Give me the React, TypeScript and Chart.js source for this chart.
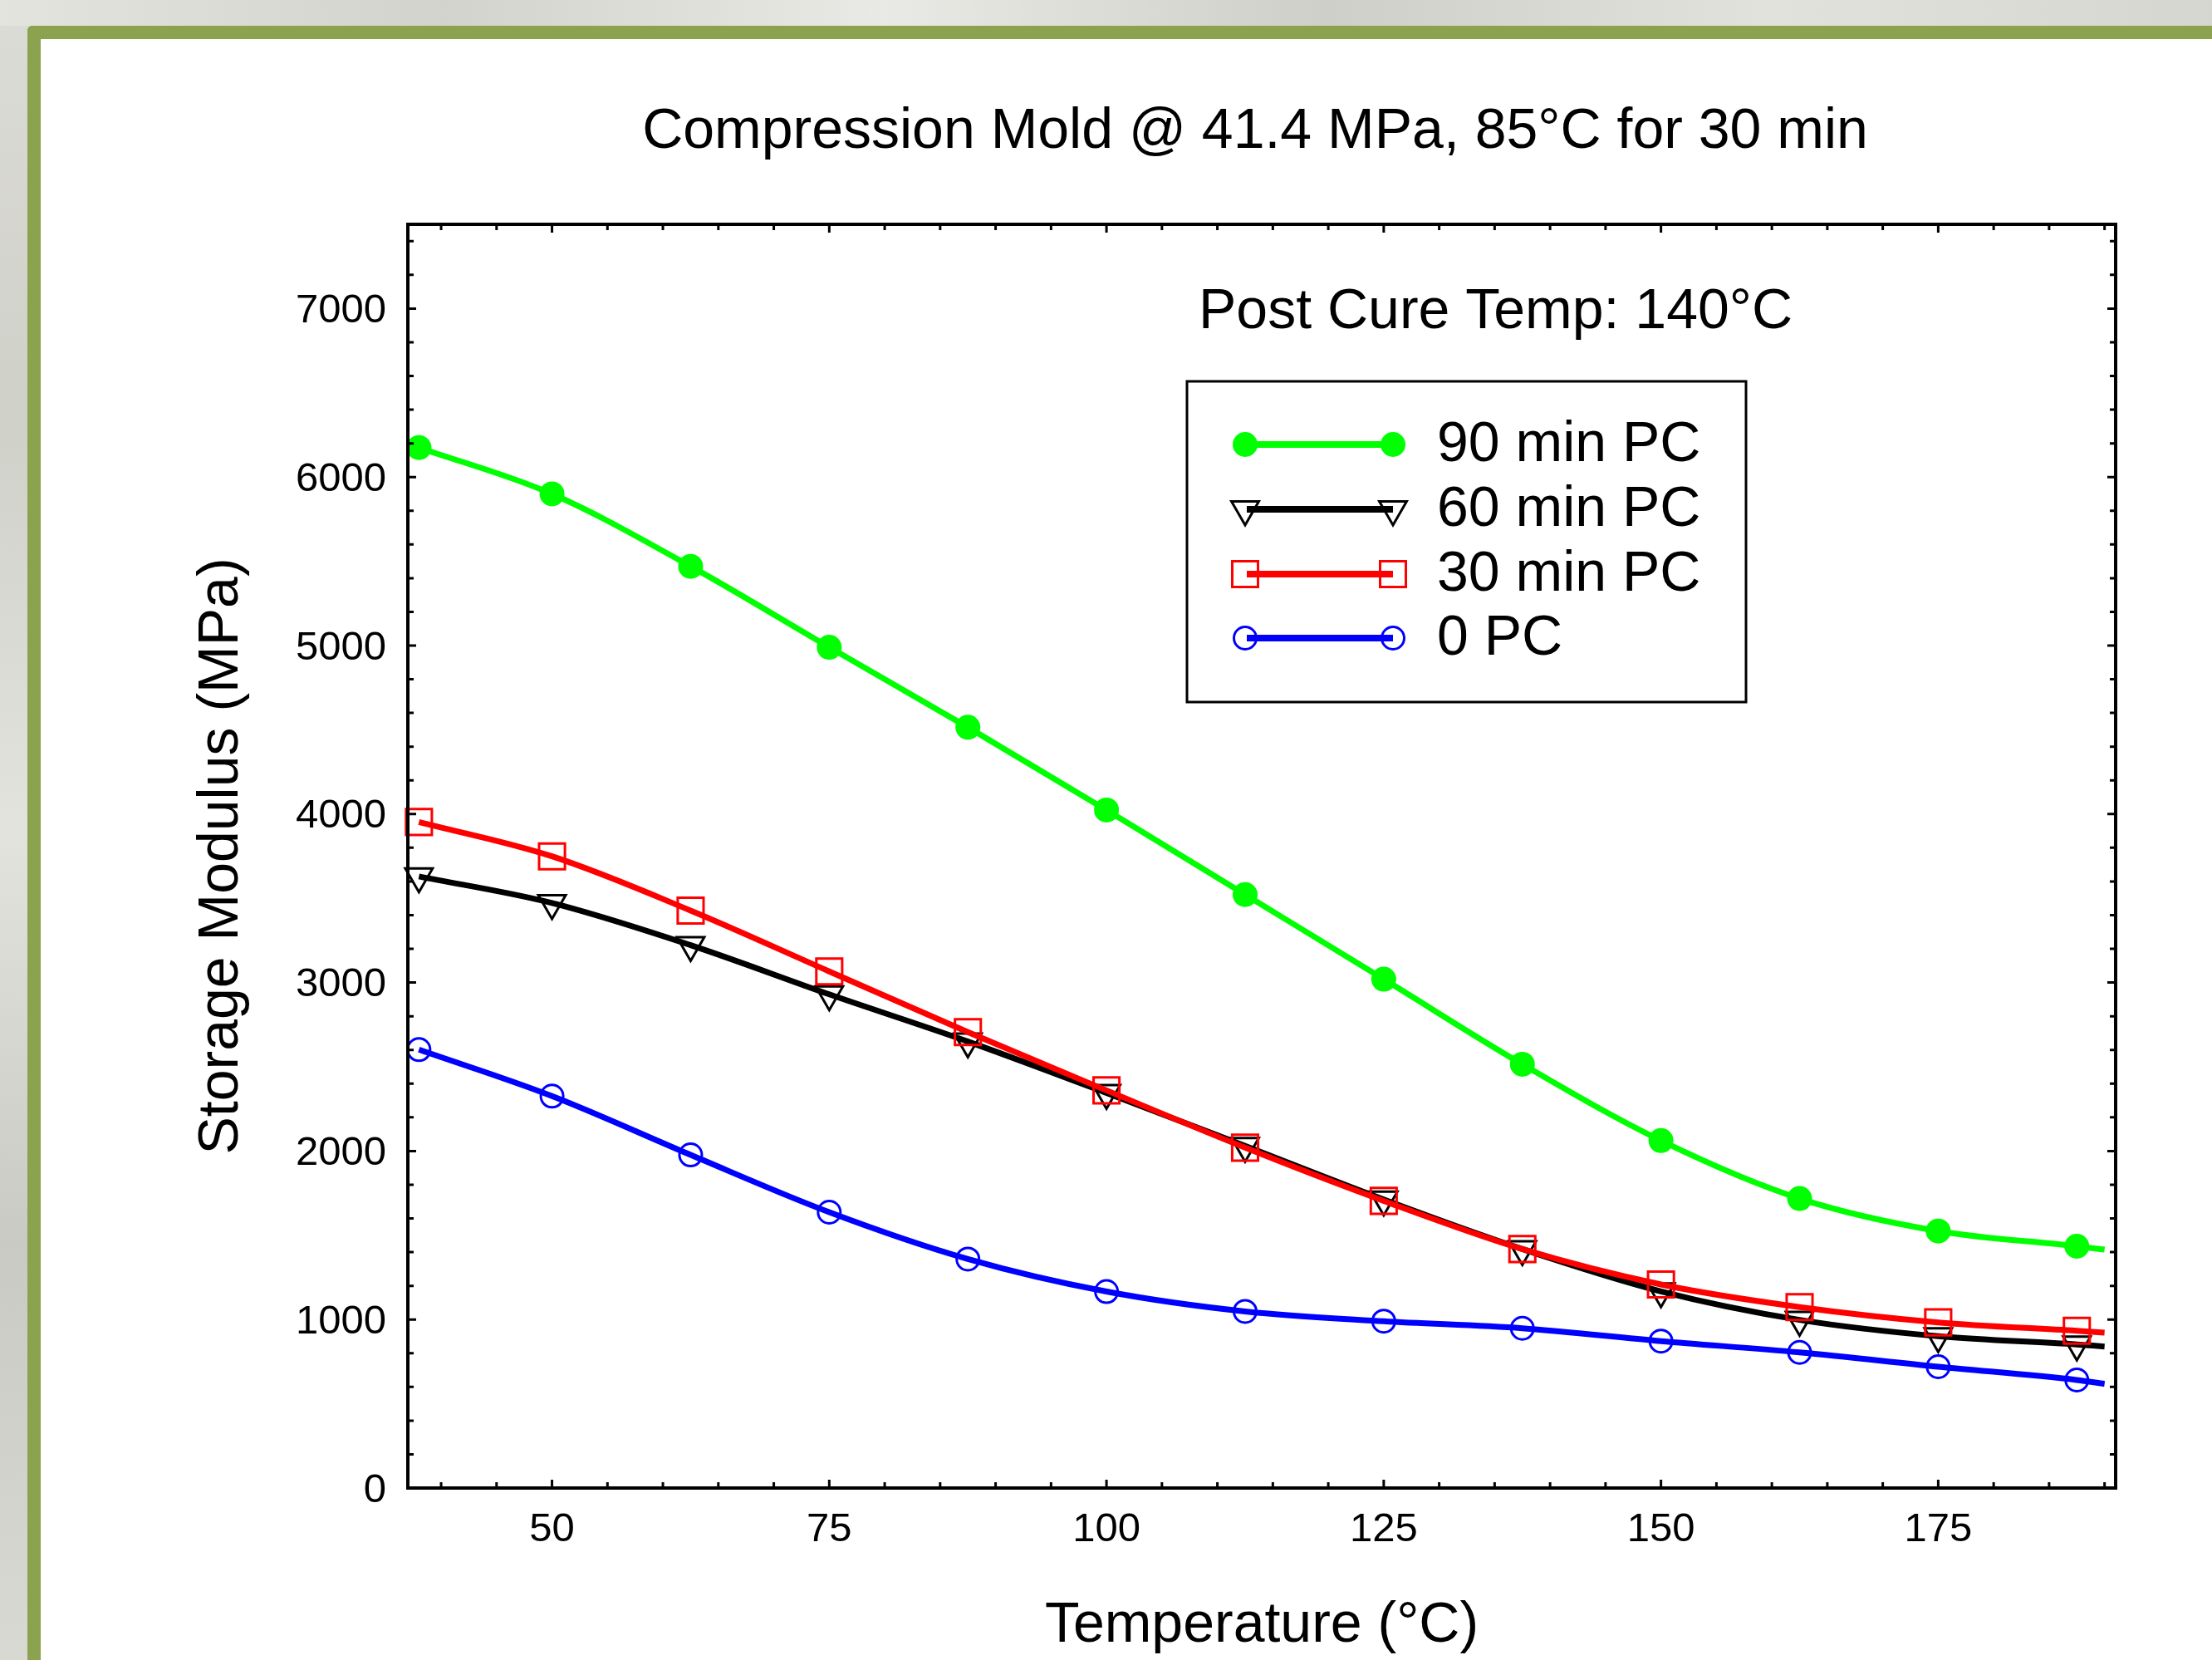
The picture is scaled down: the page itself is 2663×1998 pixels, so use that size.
import React, { useEffect, useRef } from 'react';
import { Chart, registerables } from 'chart.js';

Chart.register(...registerables);

// ---------- data ----------
const TEMPS = [38, 50, 62.5, 75, 87.5, 100, 112.5, 125, 137.5, 150, 162.5, 175, 187.5, 190];
const PC90 = [6175, 5900, 5470, 4990, 4515, 4024, 3522, 3020, 2515, 2062, 1718, 1525, 1435, 1415];
const PC60 = [3630, 3472, 3222, 2930, 2650, 2345, 2030, 1712, 1418, 1167, 998, 901, 852, 840];
const PC30 = [3953, 3749, 3427, 3066, 2706, 2360, 2020, 1704, 1418, 1208, 1074, 983, 933, 922];
const PC0 = [2602, 2326, 1977, 1637, 1359, 1166, 1048, 990, 948, 872, 805, 720, 641, 618];

const SERIES_LABELS = ['90 min PC', '60 min PC', '30 min PC', '0 PC'];
const SERIES_COLORS = ['#00ff00', '#000000', '#ff0000', '#0000ff'];

const X_MIN = 37;
const X_MAX = 191;
const X_TICKS = [50, 75, 100, 125, 150, 175];
const X_MINOR_STEP = 5;
const Y_MIN = 0;
const Y_MAX = 7500;
const Y_TICKS = [0, 1000, 2000, 3000, 4000, 5000, 6000, 7000];
const Y_MINOR_STEP = 200;

const TITLE = 'Compression Mold @ 41.4 MPa, 85°C for 30 min';
const SUBTITLE = 'Post Cure Temp: 140°C';
const X_TITLE = 'Temperature (°C)';
const Y_TITLE = 'Storage Modulus (MPa)';

const FONT = "'Liberation Sans', Arial, Helvetica, sans-serif";

const W = 2663;
const H = 1998;

// marker radius arrays: last point is the curve end without a marker
const radii = (r: number) => TEMPS.map((_, i) => (i === TEMPS.length - 1 ? 0 : r));

function pts(vals: number[]) {
  return TEMPS.map((t, i) => ({ x: t, y: vals[i] }));
}

function drawMarker(ctx: CanvasRenderingContext2D, kind: string, x: number, y: number, color: string) {
  ctx.save();
  ctx.strokeStyle = color;
  ctx.fillStyle = color;
  ctx.lineWidth = 3;
  ctx.beginPath();
  if (kind === 'dot') {
    ctx.arc(x, y, 15, 0, Math.PI * 2);
    ctx.fill();
  } else if (kind === 'tri') {
    const R = 19;
    ctx.moveTo(x, y + R);
    ctx.lineTo(x - R * Math.sin(Math.PI / 3), y - R / 2);
    ctx.lineTo(x + R * Math.sin(Math.PI / 3), y - R / 2);
    ctx.closePath();
    ctx.stroke();
  } else if (kind === 'sq') {
    ctx.rect(x - 15.5, y - 15.5, 31, 31);
    ctx.stroke();
  } else {
    ctx.arc(x, y, 13.5, 0, Math.PI * 2);
    ctx.stroke();
  }
  ctx.restore();
}

const decorPlugin = {
  id: 'decor',
  afterDraw(chart: any) {
    const { ctx, chartArea: a, scales } = chart;
    const xs = scales.x;
    const ys = scales.y;
    ctx.save();

    // inward ticks on all four sides
    ctx.strokeStyle = '#000';
    ctx.lineWidth = 3;
    for (let v = Math.ceil(X_MIN / X_MINOR_STEP) * X_MINOR_STEP; v <= X_MAX; v += X_MINOR_STEP) {
      const px = xs.getPixelForValue(v);
      const len = X_TICKS.includes(v) ? 10 : 7;
      ctx.beginPath();
      ctx.moveTo(px, a.bottom);
      ctx.lineTo(px, a.bottom - len);
      ctx.moveTo(px, a.top);
      ctx.lineTo(px, a.top + len);
      ctx.stroke();
    }
    for (let v = Y_MIN + Y_MINOR_STEP; v < Y_MAX; v += Y_MINOR_STEP) {
      const py = ys.getPixelForValue(v);
      const len = Y_TICKS.includes(v) ? 10 : 7;
      ctx.beginPath();
      ctx.moveTo(a.left, py);
      ctx.lineTo(a.left + len, py);
      ctx.moveTo(a.right, py);
      ctx.lineTo(a.right - len, py);
      ctx.stroke();
    }

    // frame
    ctx.lineWidth = 4;
    ctx.strokeRect(a.left, a.top, a.right - a.left, a.bottom - a.top);

    // titles
    ctx.fillStyle = '#000';
    ctx.font = `68px ${FONT}`;
    ctx.textBaseline = 'alphabetic';
    ctx.textAlign = 'center';
    ctx.fillText(TITLE, 1511, 178);
    ctx.textAlign = 'left';
    ctx.fillText(SUBTITLE, 1443, 395);

    // legend
    const bx = 1429, by = 459, bw = 673, bh = 386;
    ctx.fillStyle = '#fff';
    ctx.fillRect(bx, by, bw, bh);
    ctx.strokeStyle = '#000';
    ctx.lineWidth = 3;
    ctx.strokeRect(bx, by, bw, bh);
    const rows = [535, 613, 691, 768];
    const kinds = ['dot', 'tri', 'sq', 'ring'];
    const x1 = 1499, x2 = 1677;
    SERIES_LABELS.forEach((lab, i) => {
      const y = rows[i];
      drawMarker(ctx, kinds[i], x1, y, SERIES_COLORS[i]);
      drawMarker(ctx, kinds[i], x2, y, SERIES_COLORS[i]);
      ctx.strokeStyle = SERIES_COLORS[i];
      ctx.lineWidth = 8;
      ctx.beginPath();
      ctx.moveTo(x1 + (i === 0 ? 0 : 2), y);
      ctx.lineTo(x2, y);
      ctx.stroke();
      ctx.fillStyle = '#000';
      ctx.font = `68px ${FONT}`;
      ctx.textAlign = 'left';
      ctx.textBaseline = 'alphabetic';
      ctx.fillText(lab, 1730, y + 20);
    });

    ctx.restore();
  },
};

export default function App() {
  const ref = useRef<HTMLCanvasElement | null>(null);

  useEffect(() => {
    if (!ref.current) return;
    const common = {
      showLine: true,
      fill: false,
      borderWidth: 7,
      cubicInterpolationMode: 'monotone' as const,
      clip: false as const,
      pointBorderWidth: 3,
    };
    const chart = new Chart(ref.current, {
      type: 'scatter',
      data: {
        datasets: [
          {
            ...common,
            label: SERIES_LABELS[0],
            data: pts(PC90),
            borderColor: SERIES_COLORS[0],
            backgroundColor: SERIES_COLORS[0],
            pointStyle: 'circle',
            pointRadius: radii(15),
            pointBorderWidth: 0,
            pointBackgroundColor: SERIES_COLORS[0],
            order: 0,
          },
          {
            ...common,
            label: SERIES_LABELS[1],
            data: pts(PC60),
            borderColor: SERIES_COLORS[1],
            backgroundColor: 'rgba(0,0,0,0)',
            pointStyle: 'triangle',
            rotation: 180,
            pointRadius: radii(19),
            pointBackgroundColor: 'rgba(0,0,0,0)',
            order: 2,
          },
          {
            ...common,
            label: SERIES_LABELS[2],
            data: pts(PC30),
            borderColor: SERIES_COLORS[2],
            backgroundColor: 'rgba(0,0,0,0)',
            pointStyle: 'rect',
            pointRadius: radii(22),
            pointBackgroundColor: 'rgba(0,0,0,0)',
            order: 1,
          },
          {
            ...common,
            label: SERIES_LABELS[3],
            data: pts(PC0),
            borderColor: SERIES_COLORS[3],
            backgroundColor: 'rgba(0,0,0,0)',
            pointStyle: 'circle',
            pointRadius: radii(13.5),
            pointBackgroundColor: 'rgba(0,0,0,0)',
            order: 3,
          },
        ],
      },
      options: {
        responsive: false,
        animation: false,
        devicePixelRatio: 1,
        events: [],
        layout: { padding: { left: 0, top: 270, right: 116, bottom: 0 } },
        plugins: {
          legend: { display: false },
          title: { display: false },
          tooltip: { enabled: false },
        },
        scales: {
          x: {
            type: 'linear',
            position: 'bottom',
            min: X_MIN,
            max: X_MAX,
            afterBuildTicks: (s: any) => {
              s.ticks = X_TICKS.map((v) => ({ value: v }));
            },
            afterFit: (s: any) => {
              s.height = 207;
            },
            grid: { display: false, drawTicks: false },
            border: { display: false },
            ticks: {
              font: { family: FONT, size: 49 },
              color: '#000',
              padding: 21,
              maxRotation: 0,
              autoSkip: false,
              callback: (v: any) => String(v),
            },
            title: {
              display: true,
              text: X_TITLE,
              font: { family: FONT, size: 68 },
              color: '#000',
              padding: { top: 0, bottom: 0 },
            },
          },
          y: {
            type: 'linear',
            position: 'left',
            min: Y_MIN,
            max: Y_MAX,
            afterBuildTicks: (s: any) => {
              s.ticks = Y_TICKS.map((v) => ({ value: v }));
            },
            afterFit: (s: any) => {
              s.width = 491;
            },
            grid: { display: false, drawTicks: false },
            border: { display: false },
            ticks: {
              font: { family: FONT, size: 49 },
              color: '#000',
              padding: 26,
              labelOffset: 3,
              autoSkip: false,
              callback: (v: any) => String(v),
            },
            title: {
              display: true,
              text: Y_TITLE,
              font: { family: FONT, size: 68 },
              color: '#000',
              padding: { top: 226, bottom: 0 },
            },
          },
        },
      },
      plugins: [decorPlugin],
    } as any);
    return () => chart.destroy();
  }, []);

  return (
    <div
      style={{
        position: 'fixed',
        left: 0,
        top: 0,
        width: W,
        height: H,
        overflow: 'hidden',
        background:
          'linear-gradient(180deg, #dcdcd6 0%, #cfd0c8 25%, #e3e3de 50%, #c9cac3 75%, #d9d9d3 100%)',
      }}
    >
      <div
        style={{
          position: 'absolute',
          left: 0,
          top: 0,
          width: W,
          height: 31,
          background: 'linear-gradient(90deg, #e4e4df 0%, #d2d3cc 20%, #e9e9e5 40%, #cfcfc9 60%, #e2e2dd 80%, #d6d6d0 100%)',
        }}
      />
      <div
        style={{
          position: 'absolute',
          left: 33,
          top: 31,
          width: W + 40,
          height: H + 40,
          background: '#ffffff',
          borderTop: '16px solid #8ba24f',
          borderLeft: '16px solid #8ba24f',
          borderTopLeftRadius: 6,
          boxSizing: 'border-box',
        }}
      />
      <canvas
        ref={ref}
        width={W}
        height={H}
        style={{ position: 'absolute', left: 0, top: 0, width: W, height: H }}
      />
    </div>
  );
}
